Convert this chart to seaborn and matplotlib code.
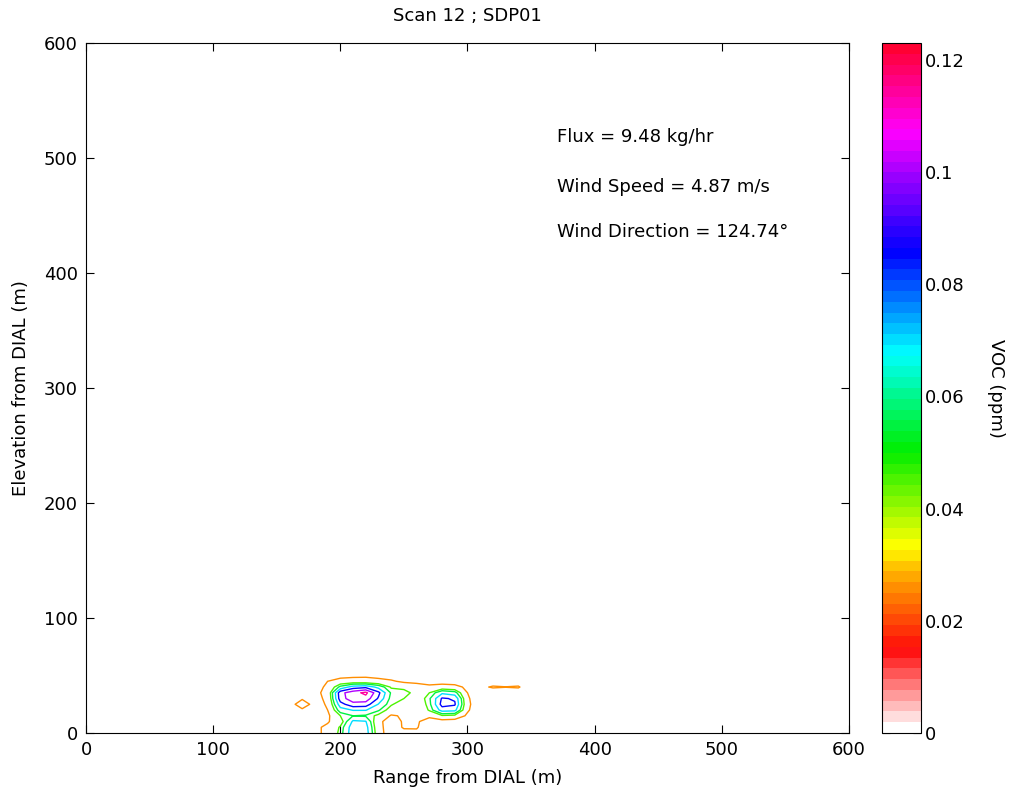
import numpy as np
import matplotlib
matplotlib.use("Agg")
import matplotlib.pyplot as plt
from matplotlib.colors import LinearSegmentedColormap, ListedColormap, Normalize
from matplotlib.cm import ScalarMappable
import seaborn as sns

# ---------------- data ----------------
title = "Scan 12 ; SDP01"
x_range_m = [160, 170, 180, 190, 200, 210, 220, 230, 240, 250,
             260, 270, 280, 290, 300, 310, 320, 330, 340, 350]
y_elev_m = [0, 5, 10, 15, 20, 25, 30, 35, 40, 45, 50, 55]
# VOC concentration in units of 0.001 ppm, rows from y=0 upward
voc_y0 = [6, 7, 20, 30, 49, 81, 79, 33, 14, 19, 20, 9, 7, 7, 6, 5, 5, 5, 5, 5]
voc_y5 = [6, 8, 21, 29, 47, 80, 77, 31, 15, 27, 27, 11, 9, 9, 7, 6, 6, 6, 6, 5]
voc_y10 = [7, 9, 19, 23, 37, 73, 71, 29, 17, 27, 28, 15, 17, 15, 10, 7, 6, 6, 6, 5]
voc_y15 = [9, 13, 13, 21, 45, 55, 53, 41, 23, 27, 28, 30, 43, 41, 21, 8, 7, 7, 7, 6]
voc_y20 = [13, 22, 15, 25, 63, 71, 71, 57, 37, 29, 27, 47, 77, 75, 28, 9, 8, 8, 8, 6]
voc_y25 = [17, 35, 18, 27, 79, 95, 93, 69, 47, 35, 29, 51, 91, 87, 30, 10, 9, 9, 9, 7]
voc_y30 = [15, 23, 19, 29, 93, 109, 109, 83, 50, 45, 32, 53, 87, 83, 28, 11, 10, 10, 10, 7]
voc_y35 = [13, 20, 20, 31, 95, 109, 119, 89, 53, 55, 35, 45, 67, 61, 25, 14, 14, 14, 14, 8]
voc_y40 = [10, 15, 17, 29, 59, 77, 81, 65, 43, 37, 32, 29, 33, 31, 21, 21, 27, 25.5, 27, 11]
voc_y45 = [8, 11, 15, 25, 32, 33, 32, 30, 27, 22, 21, 18, 17, 16, 13, 13, 15, 14, 15, 8]
voc_y50 = [6, 7, 10, 15, 19, 21, 22, 20, 18, 16, 14, 12, 12, 11, 10, 9, 10, 10, 9, 7]
voc_y55 = [5, 6, 7, 9, 11, 13, 13, 13, 11, 10, 9, 8, 8, 8, 7, 7, 7, 7, 7, 5]
contour_levels = [0.025, 0.045, 0.055, 0.07, 0.085, 0.1, 0.115]
cbar_ticks = [0, 0.02, 0.04, 0.06, 0.08, 0.1, 0.12]
axis_ticks = [0, 100, 200, 300, 400, 500, 600]
info_lines = ["Flux = 9.48 kg/hr", "Wind Speed = 4.87 m/s", "Wind Direction = 124.74°"]
info_y = [518, 475, 436]

# ---------------- style ----------------
sns.set_theme(style="white")
plt.rcParams["font.family"] = ["DejaVu Sans"]
plt.rcParams["text.color"] = "black"
plt.rcParams["axes.labelcolor"] = "black"
FS = 13

Z = np.array([voc_y0, voc_y5, voc_y10, voc_y15, voc_y20, voc_y25,
              voc_y30, voc_y35, voc_y40, voc_y45, voc_y50, voc_y55]) / 1000.0
X, Y = np.meshgrid(x_range_m, y_elev_m)

vmax = 0.123
anchor = [
    (0.000, "#ffffff"),
    (0.014, "#ff0a0a"),
    (0.026, "#ff9900"),
    (0.033, "#ffff00"),
    (0.050, "#00ee00"),
    (0.068, "#00ffff"),
    (0.086, "#0000ff"),
    (0.100, "#9900ff"),
    (0.108, "#ff00ff"),
    (0.123, "#ff0033"),
]
base = LinearSegmentedColormap.from_list("voc", [(v / vmax, c) for v, c in anchor])
cmap = ListedColormap(base(np.linspace(0, 1, 64)))
norm = Normalize(vmin=0, vmax=vmax)

fig = plt.figure(figsize=(10.13, 7.96), dpi=100)
ax = fig.add_axes([0.0849, 0.0791, 0.7532, 0.8668])
cax = fig.add_axes([0.8707, 0.0791, 0.0385, 0.8668])

ax.contour(X, Y, Z, levels=contour_levels, cmap=cmap, norm=norm, linewidths=1.0)

ax.set_xlim(0, 600)
ax.set_ylim(0, 600)
ax.set_xticks(axis_ticks)
ax.set_yticks(axis_ticks)
ax.tick_params(direction="in", length=6, width=0.8, top=True, right=True,
               bottom=True, left=True, labelsize=FS, colors="black", pad=6)
for s in ax.spines.values():
    s.set_color("black")
    s.set_linewidth(0.8)
ax.set_xlabel("Range from DIAL (m)", fontsize=FS, labelpad=7)
ax.set_ylabel("Elevation from DIAL (m)", fontsize=FS, labelpad=10)
ax.set_title(title, fontsize=FS, pad=16)

for txt, yy in zip(info_lines, info_y):
    ax.text(370, yy, txt, fontsize=FS, va="center", ha="left")

cb = fig.colorbar(ScalarMappable(norm=norm, cmap=cmap), cax=cax)
cb.set_ticks(cbar_ticks)
cb.set_ticklabels(["%g" % t for t in cbar_ticks])
cax.tick_params(direction="in", length=6, width=0.8, left=True, right=True,
                labelsize=FS, colors="black", pad=3)
cb.outline.set_edgecolor("black")
cb.outline.set_linewidth(0.8)
cb.set_label("VOC (ppm)", rotation=-90, fontsize=FS, labelpad=29)

fig.savefig("out.png", dpi=100, facecolor="white")
